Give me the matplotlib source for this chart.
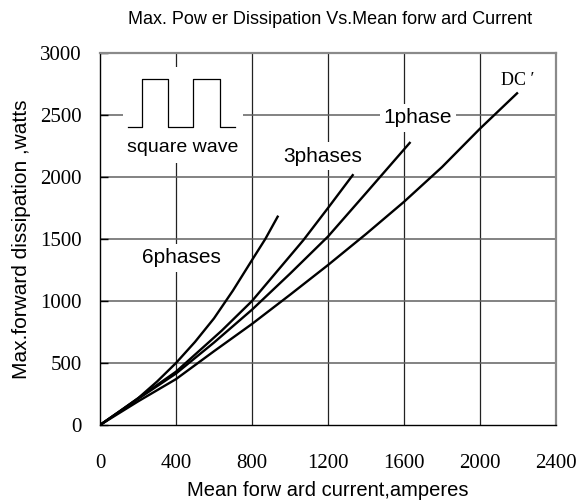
#Recreate the max power dissipation vs mean forward current chart
import numpy as np
import matplotlib
matplotlib.use('Agg')
import matplotlib.pyplot as plt
from matplotlib.patches import Rectangle

#Curve data (amperes, watts)
phase6_current = [0, 100, 200, 300, 400, 500, 600, 700, 800, 870, 935]
phase6_power = [0, 105, 215, 350, 500, 670, 860, 1085, 1330, 1500, 1680]

phase3_current = [0, 200, 400, 640, 800, 1070, 1200, 1330]
phase3_power = [0, 215, 430, 760, 1000, 1490, 1750, 2015]

phase1_current = [0, 200, 400, 600, 800, 1000, 1200, 1400, 1630]
phase1_power = [0, 210, 415, 665, 930, 1220, 1520, 1870, 2275]

dc_current = [0, 200, 400, 600, 800, 1000, 1200, 1400, 1600, 1800, 2000, 2195]
dc_power = [0, 190, 370, 595, 815, 1050, 1290, 1540, 1800, 2080, 2390, 2675]

#Square wave symbol in the top left corner (data coordinates)
wave_x = [147, 221, 221, 358, 358, 489, 489, 632, 632, 711]
wave_y = [2403, 2403, 2790, 2790, 2403, 2403, 2790, 2790, 2403, 2403]

x_ticks = [0, 400, 800, 1200, 1600, 2000, 2400]
y_ticks = [0, 500, 1000, 1500, 2000, 2500, 3000]

serif = ['Liberation Serif', 'DejaVu Serif']
sans = ['Liberation Sans', 'DejaVu Sans']

fig = plt.figure(figsize=(5.82, 5.03), dpi=100)
ax = fig.add_axes([100/582, 1-425/503, 456/582, 372/503])
ax.set_xlim(0, 2400)
ax.set_ylim(0, 3000)

#Grid, vertical lines darker than horizontal ones
for xv in x_ticks[1:-1]:
    ax.axvline(xv, color='#222222', lw=0.9, zorder=1)
for yv in y_ticks[1:-1]:
    ax.axhline(yv, color='#606060', lw=1.1, zorder=1)

#White patch behind the square wave symbol
ax.add_patch(Rectangle((121, 2113), 632, 774, facecolor='white', edgecolor='none', zorder=2))
ax.plot(wave_x, wave_y, color='black', lw=0.9, zorder=3)
ax.text(437, 2234, 'square wave', family=sans, fontsize=14, ha='center', va='center', zorder=3)

#The four curves
for xs, ys in [(phase6_current, phase6_power), (phase3_current, phase3_power),
               (phase1_current, phase1_power), (dc_current, dc_power)]:
    ax.plot(xs, ys, color='black', lw=1.7, zorder=4, solid_joinstyle='round')

box = dict(facecolor='white', edgecolor='none', pad=3)
ax.text(1674, 2476, '1phase', family=sans, fontsize=15, ha='center', va='center', bbox=box, zorder=5)
ax.text(1174, 2169, '3phases', family=sans, fontsize=15, ha='center', va='center', bbox=box, zorder=5)
ax.text(429, 1347, '6phases', family=sans, fontsize=15, ha='center', va='center', bbox=box, zorder=5)
ax.text(2200, 2780, 'DC \u2032', family=serif, fontsize=13, ha='center', va='center', zorder=5)

#Axes styling
for side in ['left', 'bottom']:
    ax.spines[side].set_color('black')
    ax.spines[side].set_linewidth(1.0)
for side in ['right', 'top']:
    ax.spines[side].set_color('#8a8a8a')
    ax.spines[side].set_linewidth(1.6)

ax.set_xticks(x_ticks)
ax.set_yticks(y_ticks)
ax.tick_params(axis='y', direction='in', length=6, width=1, pad=13, labelsize=15)
ax.tick_params(axis='x', direction='in', length=0, pad=21, labelsize=15)
for lab in ax.get_xticklabels() + ax.get_yticklabels():
    lab.set_family(serif)

ax.set_xlabel('Mean forw ard current,amperes', family=sans, fontsize=14.5, labelpad=6)
ax.set_ylabel('Max.forward dissipation ,watts', family=sans, fontsize=15, labelpad=7)
fig.text(330/582, 1-20/503, 'Max. Pow er Dissipation Vs.Mean forw ard Current',
         family=sans, fontsize=13, ha='center', va='center')

plt.savefig('out.png', dpi=100)
